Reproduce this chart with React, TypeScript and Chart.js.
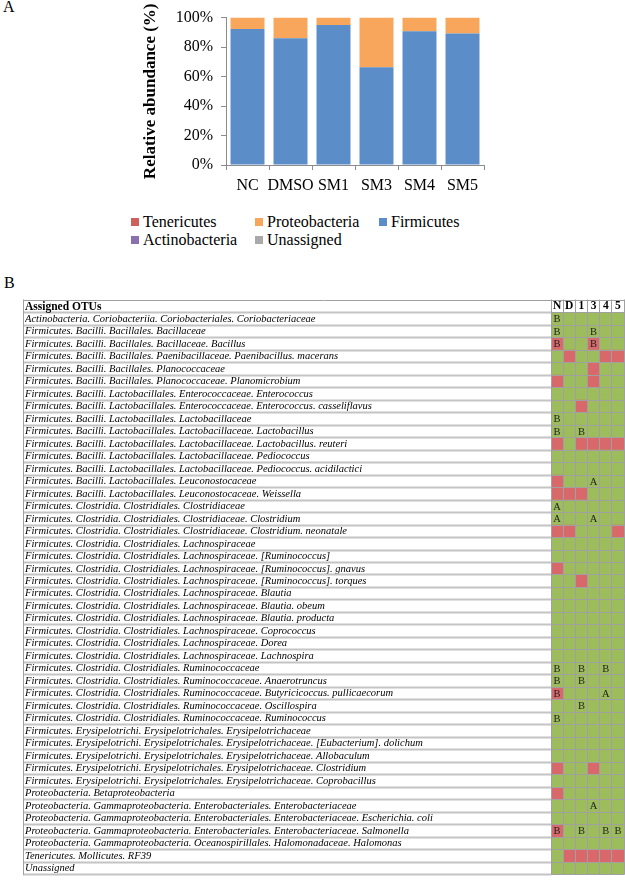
import React, { useEffect, useRef } from 'react';
import { Chart, registerables } from 'chart.js';

Chart.register(...registerables);

const FONT = "'Liberation Serif', 'Times New Roman', serif";

// ---------- Panel A data ----------
const SAMPLES = ['NC', 'DMSO', 'SM1', 'SM3', 'SM4', 'SM5'];
const FIRMICUTES = [92.3, 86.0, 95.0, 66.4, 90.7, 89.2];
const PROTEOBACTERIA = [7.7, 14.0, 5.0, 33.6, 9.3, 10.8];
const TENERICUTES = [0, 0, 0, 0, 0, 0];
const ACTINOBACTERIA = [0, 0, 0, 0, 0, 0];
const UNASSIGNED = [0, 0, 0, 0, 0, 0];
const Y_MAX = 100;
const Y_STEP = 20;

const COLOR_TENERICUTES = '#d0605e';
const COLOR_PROTEOBACTERIA = '#f7a65b';
const COLOR_FIRMICUTES = '#5b8dc8';
const COLOR_ACTINOBACTERIA = '#8a70ae';
const COLOR_UNASSIGNED = '#a9a9a9';

const LEGEND_ITEMS: [string, string][] = [
  ['Tenericutes', COLOR_TENERICUTES],
  ['Proteobacteria', COLOR_PROTEOBACTERIA],
  ['Firmicutes', COLOR_FIRMICUTES],
  ['Actinobacteria', COLOR_ACTINOBACTERIA],
  ['Unassigned', COLOR_UNASSIGNED],
];

// ---------- Panel B data ----------
const COLUMNS = ['N', 'D', '1', '3', '4', '5'];
const OTUS = [
  'Actinobacteria. Coriobacteriia. Coriobacteriales. Coriobacteriaceae',
  'Firmicutes. Bacilli. Bacillales. Bacillaceae',
  'Firmicutes. Bacilli. Bacillales. Bacillaceae. Bacillus',
  'Firmicutes. Bacilli. Bacillales. Paenibacillaceae. Paenibacillus. macerans',
  'Firmicutes. Bacilli. Bacillales. Planococcaceae',
  'Firmicutes. Bacilli. Bacillales. Planococcaceae. Planomicrobium',
  'Firmicutes. Bacilli. Lactobacillales. Enterococcaceae. Enterococcus',
  'Firmicutes. Bacilli. Lactobacillales. Enterococcaceae. Enterococcus. casseliflavus',
  'Firmicutes. Bacilli. Lactobacillales. Lactobacillaceae',
  'Firmicutes. Bacilli. Lactobacillales. Lactobacillaceae. Lactobacillus',
  'Firmicutes. Bacilli. Lactobacillales. Lactobacillaceae. Lactobacillus. reuteri',
  'Firmicutes. Bacilli. Lactobacillales. Lactobacillaceae. Pediococcus',
  'Firmicutes. Bacilli. Lactobacillales. Lactobacillaceae. Pediococcus. acidilactici',
  'Firmicutes. Bacilli. Lactobacillales. Leuconostocaceae',
  'Firmicutes. Bacilli. Lactobacillales. Leuconostocaceae. Weissella',
  'Firmicutes. Clostridia. Clostridiales. Clostridiaceae',
  'Firmicutes. Clostridia. Clostridiales. Clostridiaceae. Clostridium',
  'Firmicutes. Clostridia. Clostridiales. Clostridiaceae. Clostridium. neonatale',
  'Firmicutes. Clostridia. Clostridiales. Lachnospiraceae',
  'Firmicutes. Clostridia. Clostridiales. Lachnospiraceae. [Ruminococcus]',
  'Firmicutes. Clostridia. Clostridiales. Lachnospiraceae. [Ruminococcus]. gnavus',
  'Firmicutes. Clostridia. Clostridiales. Lachnospiraceae. [Ruminococcus]. torques',
  'Firmicutes. Clostridia. Clostridiales. Lachnospiraceae. Blautia',
  'Firmicutes. Clostridia. Clostridiales. Lachnospiraceae. Blautia. obeum',
  'Firmicutes. Clostridia. Clostridiales. Lachnospiraceae. Blautia. producta',
  'Firmicutes. Clostridia. Clostridiales. Lachnospiraceae. Coprococcus',
  'Firmicutes. Clostridia. Clostridiales. Lachnospiraceae. Dorea',
  'Firmicutes. Clostridia. Clostridiales. Lachnospiraceae. Lachnospira',
  'Firmicutes. Clostridia. Clostridiales. Ruminococcaceae',
  'Firmicutes. Clostridia. Clostridiales. Ruminococcaceae. Anaerotruncus',
  'Firmicutes. Clostridia. Clostridiales. Ruminococcaceae. Butyricicoccus. pullicaecorum',
  'Firmicutes. Clostridia. Clostridiales. Ruminococcaceae. Oscillospira',
  'Firmicutes. Clostridia. Clostridiales. Ruminococcaceae. Ruminococcus',
  'Firmicutes. Erysipelotrichi. Erysipelotrichales. Erysipelotrichaceae',
  'Firmicutes. Erysipelotrichi. Erysipelotrichales. Erysipelotrichaceae. [Eubacterium]. dolichum',
  'Firmicutes. Erysipelotrichi. Erysipelotrichales. Erysipelotrichaceae. Allobaculum',
  'Firmicutes. Erysipelotrichi. Erysipelotrichales. Erysipelotrichaceae. Clostridium',
  'Firmicutes. Erysipelotrichi. Erysipelotrichales. Erysipelotrichaceae. Coprobacillus',
  'Proteobacteria. Betaproteobacteria',
  'Proteobacteria. Gammaproteobacteria. Enterobacteriales. Enterobacteriaceae',
  'Proteobacteria. Gammaproteobacteria. Enterobacteriales. Enterobacteriaceae. Escherichia. coli',
  'Proteobacteria. Gammaproteobacteria. Enterobacteriales. Enterobacteriaceae. Salmonella',
  'Proteobacteria. Gammaproteobacteria. Oceanospirillales. Halomonadaceae. Halomonas',
  'Tenericutes. Mollicutes. RF39',
  'Unassigned',
];
// Cell fill per row (columns N D 1 3 4 5): 'r' = red, '.' = green
const CELL_FILL = [
  '......', '......', 'r..r..', '.r..rr', '...r..', 'r..r..', '......', '..r...',
  '......', '......', 'r.rrrr', '......', '......', 'r.....', 'rrr...', '......',
  '......', 'rr...r', '......', '......', 'r.....', '..r...', '......', '......',
  '......', '......', '......', '......', '......', '......', 'r.....', '......',
  '......', '......', '......', '......', 'r..r..', '......', 'r.....', '......',
  '......', 'r.....', '......', '.rrrrr', '......',
];
// Cell marks per row: letter or '.'
const CELL_MARK = [
  'B.....', 'B..B..', 'B..B..', '......', '......', '......', '......', '......',
  'B.....', 'B.B...', '......', '......', '......', '...A..', '......', 'A.....',
  'A..A..', '......', '......', '......', '......', '......', '......', '......',
  '......', '......', '......', '......', 'B.B.B.', 'B.B...', 'B...A.', '..B...',
  'B.....', '......', '......', '......', '......', '......', '......', '...A..',
  '......', 'B.B.BB', '......', '......', '......',
];
const CELL_UNIT = 1;

const RED_CELL = '#d9686a';
const GREEN_CELL = '#9dbd5c';
const GRID_COLOR = '#a0a0a0';
const ROW_LINE_COLOR = '#c4c4c4';

function BarChartA() {
  const ref = useRef<HTMLCanvasElement>(null);
  useEffect(() => {
    const chart = new Chart(ref.current!, {
      type: 'bar',
      data: {
        labels: SAMPLES,
        datasets: [
          { label: 'Firmicutes', data: FIRMICUTES, backgroundColor: COLOR_FIRMICUTES },
          { label: 'Proteobacteria', data: PROTEOBACTERIA, backgroundColor: COLOR_PROTEOBACTERIA },
          { label: 'Tenericutes', data: TENERICUTES, backgroundColor: COLOR_TENERICUTES },
          { label: 'Actinobacteria', data: ACTINOBACTERIA, backgroundColor: COLOR_ACTINOBACTERIA },
          { label: 'Unassigned', data: UNASSIGNED, backgroundColor: COLOR_UNASSIGNED },
        ].map((d) => ({ ...d, barPercentage: 0.79, categoryPercentage: 1, borderWidth: 0 })),
      },
      options: {
        responsive: false,
        animation: false,
        layout: { padding: { left: 0, right: 16, top: 17, bottom: 5 } },
        plugins: { legend: { display: false }, tooltip: { enabled: false } },
        scales: {
          x: {
            stacked: true,
            afterFit: (s: any) => { s.height = 30; },
            ticks: { color: '#000', font: { family: FONT, size: 16 }, padding: 6, maxRotation: 0, autoSkip: false },
            grid: { offset: true, drawOnChartArea: false, tickLength: 5, color: '#8c8c8c' },
            border: { color: '#8c8c8c' },
          },
          y: {
            stacked: true,
            min: 0,
            max: Y_MAX,
            afterFit: (s: any) => { s.width = 96; },
            ticks: {
              stepSize: Y_STEP,
              color: '#000',
              font: { family: FONT, size: 16 },
              padding: 8,
              callback: (v: any) => v + '%',
            },
            grid: { drawOnChartArea: false, tickLength: 5, color: '#8c8c8c' },
            border: { color: '#8c8c8c' },
            title: {
              display: true,
              text: 'Relative abundance (%)',
              color: '#000',
              font: { family: FONT, size: 17, weight: 'bold' },
              padding: { top: 10, bottom: 0 },
            },
          },
        },
      },
    } as any);
    return () => chart.destroy();
  }, []);
  return <canvas ref={ref} width={370} height={200} style={{ display: 'block' }} />;
}

const tableDecor = {
  id: 'tableDecor',
  afterDraw(chart: any) {
    const { ctx, chartArea, scales } = chart;
    const x = scales.x;
    const y = scales.y;
    const leftEdge = chartArea.left - y.options.grid.tickLength;
    ctx.save();
    ctx.strokeStyle = GRID_COLOR;
    ctx.lineWidth = 1;
    ctx.beginPath();
    ctx.moveTo(leftEdge, Math.round(x.top) + 0.5);
    ctx.lineTo(chartArea.right, Math.round(x.top) + 0.5);
    ctx.moveTo(Math.round(leftEdge) + 0.5, x.top);
    ctx.lineTo(Math.round(leftEdge) + 0.5, chartArea.bottom);
    ctx.stroke();
    ctx.fillStyle = '#000';
    ctx.font = `bold 11.5px ${FONT}`;
    ctx.textAlign = 'left';
    ctx.textBaseline = 'middle';
    ctx.fillText('Assigned OTUs', y.left, (x.top + x.bottom) / 2 + 0.5);
    ctx.font = `10.5px ${FONT}`;
    ctx.textAlign = 'center';
    ctx.fillStyle = '#222';
    COLUMNS.forEach((_, c) => {
      const meta = chart.getDatasetMeta(c);
      CELL_MARK.forEach((row, r) => {
        const m = row[c];
        if (m !== '.') {
          const p = meta.data[r].getCenterPoint();
          ctx.fillText(m, p.x, p.y + 0.5);
        }
      });
    });
    ctx.restore();
  },
};

function TableChartB() {
  const ref = useRef<HTMLCanvasElement>(null);
  useEffect(() => {
    const chart = new Chart(ref.current!, {
      type: 'bar',
      data: {
        labels: OTUS,
        datasets: COLUMNS.map((col, c) => ({
          label: col,
          data: OTUS.map(() => CELL_UNIT),
          backgroundColor: CELL_FILL.map((row) => (row[c] === 'r' ? RED_CELL : GREEN_CELL)),
          borderWidth: 0,
          barPercentage: 1,
          categoryPercentage: 1,
        })),
      },
      options: {
        indexAxis: 'y',
        responsive: false,
        animation: false,
        layout: { padding: { left: 25, right: 1, top: 9.5, bottom: 1.3 } },
        plugins: { legend: { display: false }, tooltip: { enabled: false } },
        scales: {
          x: {
            type: 'linear',
            position: 'top',
            stacked: true,
            min: 0,
            max: COLUMNS.length,
            afterBuildTicks: (s: any) => {
              s.ticks = COLUMNS.map((_, i) => ({ value: i + 0.5 }));
            },
            afterFit: (s: any) => { s.height = 13.2; },
            ticks: {
              autoSkip: false,
              maxRotation: 0,
              color: '#000',
              font: { family: FONT, size: 11.5, weight: 'bold' },
              padding: -13,
              callback: (_v: any, i: number) => COLUMNS[i],
            },
            grid: { z: 1, offset: true, color: GRID_COLOR, lineWidth: 1, tickLength: 13.2, tickColor: GRID_COLOR, tickWidth: 1 },
            border: { display: true, color: GRID_COLOR, z: 1 },
          },
          y: {
            stacked: true,
            afterFit: (s: any) => { s.width = 526; },
            ticks: {
              autoSkip: false,
              crossAlign: 'far',
              color: '#000',
              font: { family: FONT, size: 10.5, style: 'italic', lineHeight: 1 },
            },
            grid: { z: 1, offset: true, color: GRID_COLOR, lineWidth: 1, tickLength: 528, tickColor: ROW_LINE_COLOR, tickWidth: 2 },
            border: { display: true, color: GRID_COLOR, z: 1 },
          },
        },
      },
      plugins: [tableDecor],
    } as any);
    return () => chart.destroy();
  }, []);
  return <canvas ref={ref} width={625} height={593} style={{ display: 'block' }} />;
}

export default function App() {
  return (
    <div style={{ position: 'absolute', left: 0, top: 0, width: 625, height: 883, background: '#fff', fontFamily: FONT }}>
      <div style={{ position: 'absolute', left: 3, top: -2, fontSize: 16 }}>A</div>
      <div style={{ position: 'absolute', left: 130, top: 0 }}>
        <BarChartA />
      </div>
      <div
        style={{
          position: 'absolute',
          left: 131,
          top: 213,
          display: 'grid',
          gridTemplateColumns: '124px 124px 124px',
          rowGap: 0,
          fontSize: 16,
          lineHeight: '18px',
          color: '#000',
        }}
      >
        {LEGEND_ITEMS.map(([name, color]) => (
          <div key={name} style={{ display: 'flex', alignItems: 'center', whiteSpace: 'nowrap' }}>
            <span style={{ display: 'inline-block', width: 8, height: 8, background: color, marginRight: 4 }} />
            <span>{name}</span>
          </div>
        ))}
      </div>
      <div style={{ position: 'absolute', left: 4, top: 274, fontSize: 16 }}>B</div>
      <div style={{ position: 'absolute', left: 0, top: 290 }}>
        <TableChartB />
      </div>
    </div>
  );
}
